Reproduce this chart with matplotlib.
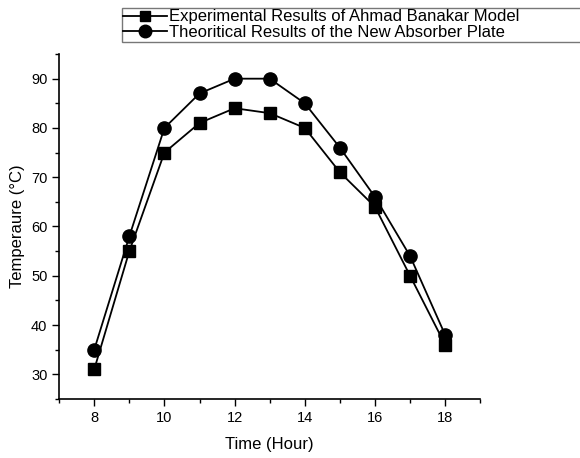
import matplotlib
matplotlib.use('Agg')
import matplotlib.pyplot as plt

plt.rcParams['font.family'] = ['Liberation Sans', 'DejaVu Sans']

hours = [8, 9, 10, 11, 12, 13, 14, 15, 16, 17, 18]
experimental = [31, 55, 75, 81, 84, 83, 80, 71, 64, 50, 36]
theoretical = [35, 58, 80, 87, 90, 90, 85, 76, 66, 54, 38]

fig = plt.figure(figsize=(5.8, 4.58), dpi=100)
ax = fig.add_axes([0.102, 0.129, 0.726, 0.753])

ax.plot(hours, experimental, color='black', marker='s', markersize=8, lw=1.3,
        label='Experimental Results of Ahmad Banakar Model')
ax.plot(hours, theoretical, color='black', marker='o', markersize=9.5, lw=1.3,
        label='Theoritical Results of the New Absorber Plate')

ax.set_xlim(7, 19)
ax.set_ylim(25, 95)
ax.set_xticks([8, 10, 12, 14, 16, 18])
ax.set_xticks([7, 9, 11, 13, 15, 17, 19], minor=True)
ax.set_yticks([30, 40, 50, 60, 70, 80, 90])
ax.set_yticks([25, 35, 45, 55, 65, 75, 85, 95], minor=True)
ax.tick_params(direction='out', length=5, width=1, labelsize=10.5)
ax.tick_params(which='minor', direction='out', length=3, width=1)
for s in ['top', 'right']:
    ax.spines[s].set_visible(False)
for s in ['left', 'bottom']:
    ax.spines[s].set_linewidth(1.2)

ax.set_xlabel('Time (Hour)', fontsize=12, labelpad=9)
ax.set_ylabel('Temperaure (°C)', fontsize=12, labelpad=4)

# legend box runs off the right edge, as in the original
leg = fig.legend(loc='upper left', bbox_to_anchor=(0.21, 0.5, 0.8, 0.483),
                 mode='expand', fontsize=12,
                 frameon=True, fancybox=False, edgecolor='#555555',
                 borderpad=0.1, labelspacing=0.05, handlelength=2.6,
                 handletextpad=0.15, borderaxespad=0, markerscale=0.95)
leg.get_frame().set_linewidth(1)

fig.savefig('out.png', dpi=100)
